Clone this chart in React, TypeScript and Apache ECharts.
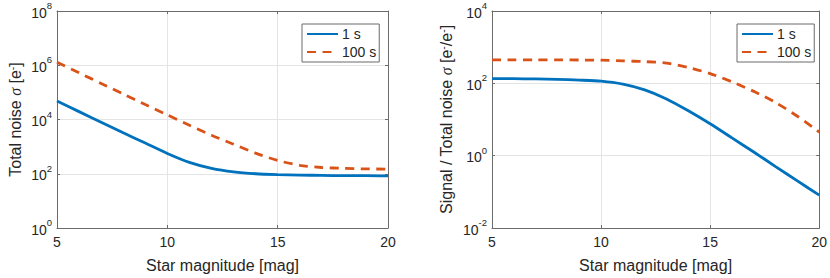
import React, { useEffect, useRef } from "react";
import * as echarts from "echarts";

const magnitudes = [5, 6, 7, 8, 9, 10, 11, 12, 13, 14, 15, 16, 17, 18, 19, 20];
const noise1s = [47900, 19500, 7940, 3240, 1350, 562, 263, 158, 117, 100, 93, 89, 87, 85, 85, 83];
const noise100s = [1290000, 525000, 214000, 87100, 35500, 14800, 6170, 2630, 1230, 575, 309, 204, 170, 158, 151, 148];
const snr1s = [135, 135, 132, 129, 123, 115, 95, 66, 37, 17.4, 7.6, 3.1, 1.26, 0.5, 0.2, 0.081];
const snr100s = [447, 447, 447, 447, 442, 437, 417, 398, 363, 275, 186, 110, 60, 29.5, 12.3, 4.5];
const seriesNames = ["1 s", "100 s"];
const xTickValues = [5, 10, 15, 20];

const BLUE = "#0072BD";
const ORANGE = "#D95319";
const TEXT = "#262626";
const AXIS = "#6b6b6b";
const GRID = "#e4e4e4";
const FONT = "Liberation Sans, Arial, sans-serif";

const pairs = (ys: number[]) => magnitudes.map((m, i) => [m, ys[i]]);

const logLabel = (v: number) => {
  const e = Math.round(Math.log10(v));
  return `{b|10}{e|${e}}`;
};

const richTick = {
  b: { fontSize: 14, fontFamily: FONT, color: TEXT, lineHeight: 17, verticalAlign: "bottom" },
  e: { fontSize: 9.5, fontFamily: FONT, color: TEXT, lineHeight: 9, padding: [0, 0, 9, 0], verticalAlign: "bottom" },
};

const richName = {
  i: { fontSize: 16, fontFamily: "Liberation Serif, serif", fontStyle: "italic", color: TEXT },
  s: { fontSize: 10.5, fontFamily: FONT, color: TEXT, padding: [0, 0, 8, 0], verticalAlign: "bottom" },
};

export default function App() {
  const ref = useRef<HTMLDivElement>(null);
  useEffect(() => {
    if (!ref.current) return;
    const chart = echarts.init(ref.current, undefined, { renderer: "svg" });
    const grids = [
      { left: 57, top: 11, width: 331, height: 221 },
      { left: 492, top: 11, width: 331, height: 221 },
    ];
    const xAxes: any[] = [];
    const yAxes: any[] = [];
    const yCfg = [
      { min: 1, max: 1e8, name: "Total noise {i|σ} [e{s|-}]", gap: 32 },
      { min: 0.01, max: 1e4, name: "Signal / Total noise {i|σ} [e{s|-}/e{s|-}]", gap: 36 },
    ];
    grids.forEach((_, gi) => {
      xAxes.push({
        type: "value",
        gridIndex: gi,
        min: 5,
        max: 20,
        interval: 5,
        name: "Star magnitude [mag]",
        nameLocation: "middle",
        nameGap: 29,
        nameTextStyle: { fontSize: 16, fontFamily: FONT, color: TEXT },
        axisLine: { show: true, lineStyle: { color: AXIS, width: 1 } },
        axisTick: { show: true, inside: true, length: 3, lineStyle: { color: AXIS } },
        axisLabel: {
          fontSize: 14,
          fontFamily: FONT,
          color: TEXT,
          margin: 7,
          formatter: (v: number) => (xTickValues.includes(v) ? String(v) : ""),
        },
        splitLine: { show: true, lineStyle: { color: GRID, width: 1 } },
      });
      xAxes.push({
        type: "value",
        gridIndex: gi,
        position: "top",
        min: 5,
        max: 20,
        interval: 5,
        axisLine: { show: true, onZero: false, lineStyle: { color: AXIS, width: 1 } },
        axisTick: { show: true, inside: true, length: 3, lineStyle: { color: AXIS } },
        axisLabel: { show: false },
        splitLine: { show: false },
      });
      const c = yCfg[gi];
      yAxes.push({
        type: "log",
        logBase: 10,
        gridIndex: gi,
        min: c.min,
        max: c.max,
        interval: 2,
        name: c.name,
        nameLocation: "middle",
        nameGap: c.gap,
        nameRotate: 90,
        nameTextStyle: { fontSize: 16, fontFamily: FONT, color: TEXT, rich: richName },
        axisLine: { show: true, lineStyle: { color: AXIS, width: 1 } },
        axisTick: { show: true, inside: true, length: 3, lineStyle: { color: AXIS } },
        minorTick: { show: false },
        axisLabel: { margin: 5, formatter: logLabel, rich: richTick },
        splitLine: { show: true, lineStyle: { color: GRID, width: 1 } },
      });
      yAxes.push({
        type: "log",
        logBase: 10,
        gridIndex: gi,
        position: "right",
        min: c.min,
        max: c.max,
        interval: 2,
        axisLine: { show: true, onZero: false, lineStyle: { color: AXIS, width: 1 } },
        axisTick: { show: true, inside: true, length: 3, lineStyle: { color: AXIS } },
        axisLabel: { show: false },
        splitLine: { show: false },
      });
    });

    const mk = (name: string, data: number[], gi: number, color: string, dashed: boolean) => ({
      type: "line",
      name,
      xAxisIndex: gi * 2,
      yAxisIndex: gi * 2,
      data: pairs(data),
      showSymbol: false,
      symbol: "none",
      smooth: 0.25,
      lineStyle: { color, width: 2.8, type: dashed ? [9, 6.5] : "solid", cap: "butt" },
      itemStyle: { color },
      z: 3,
    });

    const legendBase = (left: number) => ({
      orient: "vertical",
      left,
      top: 24,
      padding: [3, 3, 3, 4],
      itemGap: 4,
      itemWidth: 31,
      itemHeight: 14,
      backgroundColor: "#ffffff",
      borderColor: AXIS,
      borderWidth: 1,
      borderRadius: 0,
      itemStyle: { opacity: 0, borderWidth: 0 },
      textStyle: { fontSize: 14, fontFamily: FONT, color: TEXT, padding: [0, 0, 0, -1] },
      data: seriesNames,
      selectedMode: false,
    });

    chart.setOption({
      animation: false,
      backgroundColor: "#ffffff",
      textStyle: { fontFamily: FONT },
      grid: grids.map((g) => ({ ...g, show: false, containLabel: false })),
      xAxis: xAxes,
      yAxis: yAxes,
      legend: [legendBase(302), legendBase(737)],
      series: [
        mk(seriesNames[0], noise1s, 0, BLUE, false),
        mk(seriesNames[1], noise100s, 0, ORANGE, true),
        mk(seriesNames[0], snr1s, 1, BLUE, false),
        mk(seriesNames[1], snr100s, 1, ORANGE, true),
      ],
    });
    return () => chart.dispose();
  }, []);
  return (
    <div
      ref={ref}
      style={{ position: "fixed", left: 0, top: 0, width: 830, height: 278, background: "#fff" }}
    />
  );
}
